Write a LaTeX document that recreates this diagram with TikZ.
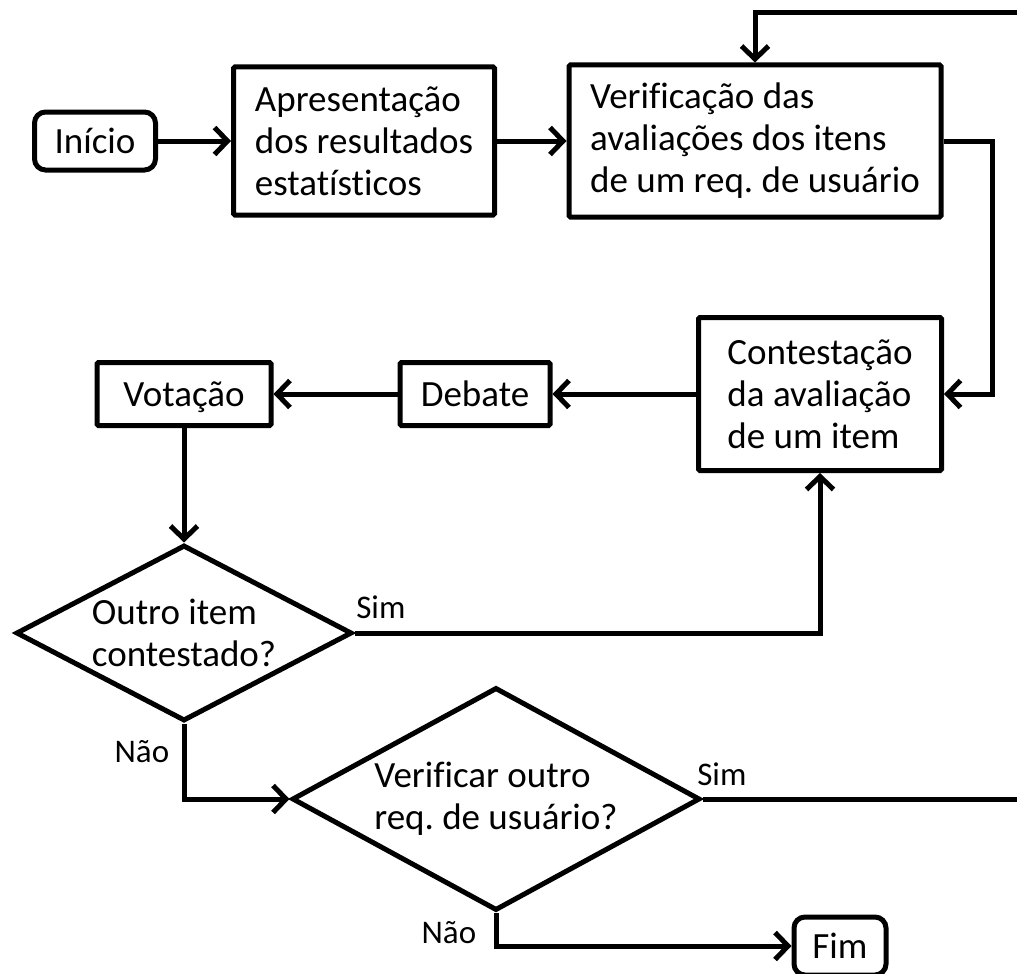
\documentclass[tikz,border=0pt]{standalone}
\usepackage{fontspec}
\setmainfont{Carlito}[Ligatures=NoCommon]
\usetikzlibrary{shapes.geometric,arrows.meta}

\begin{document}
\frenchspacing
\begin{tikzpicture}[x=1pt,y=-1pt,
  every node/.style={font=\fontsize{37}{42}\selectfont},
  stepbox/.style={draw, line width=5pt, rounded corners=1.5pt, align=left, inner sep=0pt},
  oneline/.style={text height=30pt, text depth=6pt},
  terminal/.style={draw, line width=5pt, rounded corners=11pt, inner sep=0pt, oneline},
  decision/.style={draw, diamond, line width=5pt, align=left, inner xsep=-20pt, inner ysep=-10pt},
  flow/.style={-{Straight Barb[length=13pt,width=27pt]}, line width=5pt},
  plainflow/.style={line width=5pt},
  edgelabel/.style={font=\fontsize{33}{38}\selectfont}]

\useasboundingbox (0,0) rectangle (1017,974);

% process steps
\node[terminal, minimum width=121, minimum height=58] (inicio) at (95,141) {Início};
\node[stepbox, minimum width=261, minimum height=148] (apres) at (364,141)
  {Apresentação\\dos resultados\\estatísticos};
\node[stepbox, minimum width=372, minimum height=152] (verif) at (755,141)
  {Verificação das\\avaliações dos itens\\de um req. de usuário};
\node[stepbox, minimum width=243, minimum height=153] (contest) at (820,394)
  {Contestação\\da avaliação\\de um item};
\node[stepbox, oneline, align=none, minimum width=150, minimum height=63] (debate) at (475,394) {Debate};
\node[stepbox, oneline, align=none, minimum width=174, minimum height=63] (votacao) at (184,394) {Votação};

% decisions
\node[decision, aspect=1.9, minimum width=336, minimum height=176] (d1) at (184,633)
  {Outro item\\contestado?};
\node[decision, aspect=1.83, minimum width=408, minimum height=223] (d2) at (496,799)
  {Verificar outro\\req. de usuário?};

\node[terminal, minimum width=92, minimum height=58] (fim) at (840,946) {Fim};

% loose ends running off the right edge
\coordinate (loopin) at (1022,13);
\coordinate (loopout) at (1022,799);

% connectors
\draw[flow] (inicio) -- (apres);
\draw[flow] (apres) -- (verif);
\draw[flow] (loopin) -| (verif.north);
\draw[flow] (verif.east) -- ++(49,0) |- (contest.east);
\draw[flow] (contest) -- (debate);
\draw[flow] (debate) -- (votacao);
\draw[flow] (votacao) -- (d1);
\draw[flow] (d1.east) -| (contest.south)
  node[pos=0, edgelabel, anchor=base west, xshift=-4pt, yshift=15pt] {Sim};
\draw[flow] (d1.south) |- (d2.west)
  node[pos=0, edgelabel, anchor=base east, xshift=-9pt, yshift=-39pt] {Não};
\draw[plainflow] (d2.east) -- (loopout)
  node[pos=0, edgelabel, anchor=base west, xshift=-11pt, yshift=14pt] {Sim};
\draw[flow] (d2.south) |- (fim.west)
  node[pos=0, edgelabel, anchor=base east, xshift=-14pt, yshift=-30pt] {Não};

\end{tikzpicture}
\end{document}
